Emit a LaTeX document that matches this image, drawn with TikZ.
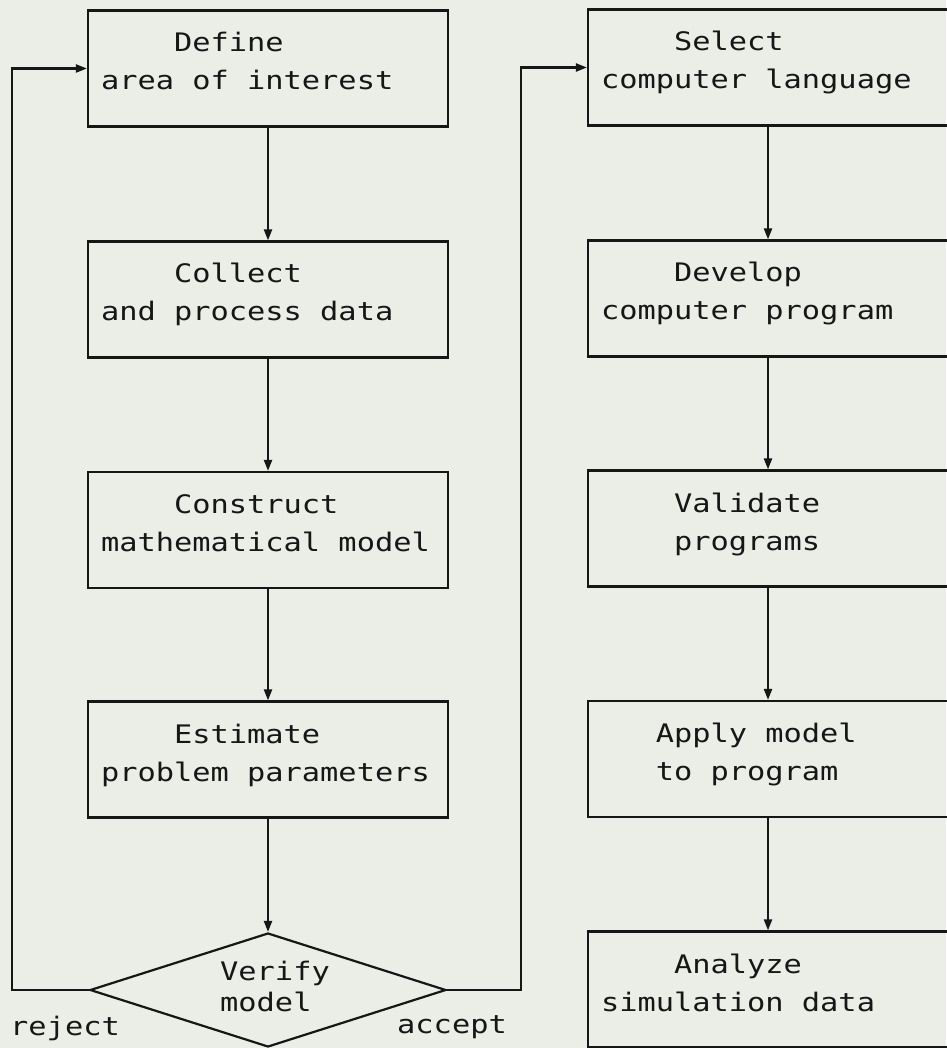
\documentclass[tikz,border=0pt]{standalone}
\usepackage{fontspec}
\newfontfamily\plotfont[FakeStretch=1.19]{DejaVu Sans Mono}
\usetikzlibrary{shapes.geometric,arrows.meta}
\definecolor{bgc}{RGB}{234,238,230}
\definecolor{ink}{RGB}{22,22,22}
\newcommand\boxstrut{\rule[-16pt]{0pt}{37pt}}
\newcommand\dstrut{\rule[-9.5pt]{0pt}{30.5pt}}
\newcommand\gap{\phantom{x}}
\newcommand\pfont[1]{\plotfont\fontsize{25.5}{#1}\selectfont}
\begin{document}
\begin{tikzpicture}[x=1pt,y=-1pt,
  every node/.style={text=ink},
  procbox/.style={draw=ink,line width=2.2pt,rectangle,minimum height=116pt,
    text width=334pt,inner xsep=13pt,inner ysep=0pt,align=left,
    font=\pfont{38}},
  decide/.style={draw=ink,line width=2.2pt,diamond,aspect=3.1,
    minimum width=356pt,minimum height=114pt,inner sep=0pt,align=left,
    font=\pfont{31}},
  lbl/.style={font=\pfont{31},inner sep=0pt},
  arr/.style={draw=ink,line width=2.2pt,-{Triangle[length=11pt,width=8pt]}},
]
\fill[bgc] (0,0) rectangle (946,1048);
\useasboundingbox (0,0) rectangle (946,1048);

% left column
\node[procbox] (b1) at (268,68.5) {\phantom{xxxx}Define\boxstrut\\area\gap of\gap interest\boxstrut};
\node[procbox] (b2) at (268,299.5) {\phantom{xxxx}Collect\boxstrut\\and\gap process\gap data\boxstrut};
\node[procbox] (b3) at (268,530) {\phantom{xxxx}Construct\boxstrut\\mathematical\gap model\boxstrut};
\node[procbox] (b4) at (268,759.5) {\phantom{xxxx}Estimate\boxstrut\\problem\gap parameters\boxstrut};
\node[decide] (d) at (268,990) {\hspace*{14pt}Verify\dstrut\\\hspace*{14pt}model\dstrut};

% right column
\node[procbox] (r1) at (768,67.5) {\phantom{xxxx}Select\boxstrut\\computer\gap language\boxstrut};
\node[procbox] (r2) at (768,298.5) {\phantom{xxxx}Develop\boxstrut\\computer\gap program\boxstrut};
\node[procbox] (r3) at (768,528.5) {\phantom{xxxx}Validate\boxstrut\\\phantom{xxxx}programs\boxstrut};
\node[procbox] (r4) at (768,759) {\phantom{xxx}Apply\gap model\boxstrut\\\phantom{xxx}to\gap program\boxstrut};
\node[procbox] (r5) at (768,989.5) {\phantom{xxxx}Analyze\boxstrut\\simulation\gap data\boxstrut};

% labels
\node[lbl,anchor=base west] (rej) at (10,1035) {reject};
\node[lbl,anchor=base west] (acc) at (397,1033) {accept};

% connectors
\draw[arr] (b1.south) -- (b2.north);
\draw[arr] (b2.south) -- (b3.north);
\draw[arr] (b3.south) -- (b4.north);
\draw[arr] (b4.south) -- (d.north);
\draw[arr] (r1.south) -- (r2.north);
\draw[arr] (r2.south) -- (r3.north);
\draw[arr] (r3.south) -- (r4.north);
\draw[arr] (r4.south) -- (r5.north);

\coordinate (rejx) at (12,990);
\coordinate (accx) at (521,990);
\draw[arr] (d.west) -- (rejx) |- (b1.west);
\draw[arr] (d.east) -- (accx) |- (r1.west);
\end{tikzpicture}
\end{document}
